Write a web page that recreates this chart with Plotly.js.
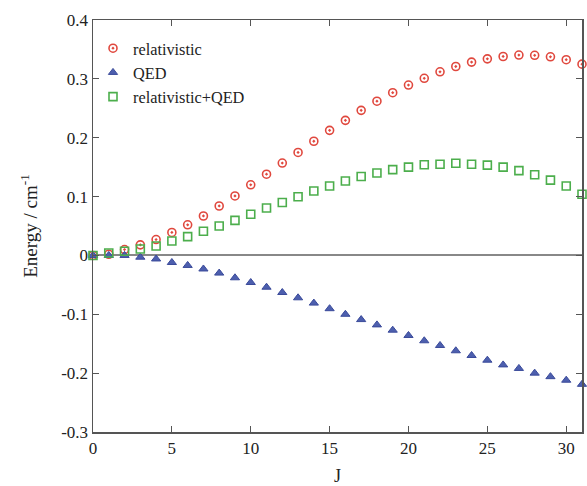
<!DOCTYPE html>
<html><head><meta charset="utf-8">
<script src="https://cdn.plot.ly/plotly-3.0.1.min.js"></script>
<style>html,body{margin:0;padding:0;background:#fff}#chart{width:587px;height:486px}</style>
</head><body><div id="chart"></div>
<script>
const J = [0,1,2,3,4,5,6,7,8,9,10,11,12,13,14,15,16,17,18,19,20,21,22,23,24,25,26,27,28,29,30,31];
const relativistic = [0,0.002,0.010,0.018,0.027,0.039,0.052,0.067,0.084,0.101,0.120,0.138,0.157,0.175,0.194,0.2125,0.2295,0.2465,0.262,0.2765,0.2895,0.301,0.312,0.321,0.3285,0.334,0.338,0.3405,0.340,0.3375,0.3325,0.325];
const qed = [0,0,0,-0.003,-0.006,-0.012,-0.017,-0.023,-0.030,-0.038,-0.046,-0.054,-0.063,-0.072,-0.081,-0.0905,-0.100,-0.109,-0.118,-0.127,-0.136,-0.145,-0.153,-0.162,-0.170,-0.178,-0.186,-0.192,-0.200,-0.206,-0.212,-0.219];
const relQed = [0,0.004,0.007,0.011,0.016,0.0245,0.032,0.041,0.050,0.0595,0.070,0.0805,0.090,0.0998,0.1095,0.118,0.1265,0.134,0.140,0.1457,0.150,0.154,0.155,0.1565,0.155,0.1535,0.150,0.144,0.137,0.128,0.118,0.104];
const yTickVals = [-0.3,-0.2,-0.1,0,0.1,0.2,0.3,0.4];
const yTickText = ["-0.3","-0.2","-0.1","0","0.1","0.2","0.3","0.4"];
const xTickVals = [0,5,10,15,20,25,30];
const xTickText = ["0","5","10","15","20","25","30"];

const serif = "Liberation Serif, Times New Roman, serif";
const traces = [
  {x: J, y: relativistic, name: "relativistic", mode: "markers", type: "scatter", cliponaxis: false,
   marker: {symbol: "circle-dot", size: 8, color: "rgba(0,0,0,0)", line: {color: "#e0483e", width: 1.6}}},
  {x: J, y: qed, name: "QED", mode: "markers", type: "scatter", cliponaxis: false,
   marker: {symbol: "triangle-up", size: 8, color: "#4d5fae", line: {color: "#3a4a9a", width: 1}}},
  {x: J, y: relQed, name: "relativistic+QED", mode: "markers", type: "scatter", cliponaxis: false,
   marker: {symbol: "square-open", size: 8, color: "#4cae4c", line: {color: "#4cae4c", width: 1.6}}}
];
const axisCommon = {showgrid: false, showline: true, linecolor: "#555", linewidth: 1.5, mirror: "ticks",
  ticks: "inside", ticklen: 6, tickwidth: 1.2, tickcolor: "#555",
  tickfont: {family: serif, size: 17, color: "#222"}};
const layout = {
  width: 587, height: 486,
  margin: {l: 92.7, r: 4.5, t: 20, b: 54},
  paper_bgcolor: "#fff", plot_bgcolor: "#fff",
  showlegend: true,
  legend: {x: 0.0, y: 0.973, xanchor: "left", yanchor: "top", bgcolor: "rgba(0,0,0,0)",
    font: {family: serif, size: 16.3, color: "#222"}, tracegroupgap: 0},
  xaxis: Object.assign({}, axisCommon, {range: [0, 31], tickvals: xTickVals, ticktext: xTickText, zeroline: false,
    title: {text: "J", font: {family: serif, size: 18, color: "#222"}, standoff: 26}}),
  yaxis: Object.assign({}, axisCommon, {range: [-0.3, 0.4], tickvals: yTickVals, ticktext: yTickText,
    zeroline: true, zerolinecolor: "#888", zerolinewidth: 2,
    title: {text: "Energy / cm<sup>-1</sup>", font: {family: serif, size: 19, color: "#222"}, standoff: 18}})
};
Plotly.newPlot("chart", traces, layout, {displayModeBar: false, staticPlot: true});
</script></body></html>
